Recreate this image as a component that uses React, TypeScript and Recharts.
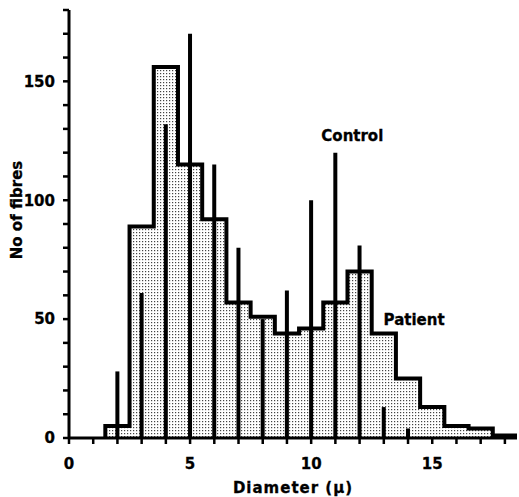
import React from "react";
import {
  ComposedChart,
  Area,
  Bar,
  XAxis,
  YAxis,
  ReferenceDot,
} from "recharts";

// patient histogram: bins of width 1 starting at these edges
const patientBinStarts = [1.5, 2.5, 3.5, 4.5, 5.5, 6.5, 7.5, 8.5, 9.5, 10.5, 11.5, 12.5, 13.5, 14.5, 15.5, 16.5, 17.5];
const patientCounts = [5, 89, 156, 115, 92, 57, 51, 44, 46, 57, 70, 44, 25, 13, 5, 4, 1];
const patientEnd = 18.5;

// control: single lines at integer diameters
const controlDiameters = [2, 3, 4, 5, 6, 7, 8, 9, 10, 11, 12, 13, 14];
const controlCounts = [28, 61, 132, 170, 115, 80, 50, 62, 100, 120, 81, 13, 4];

const xTicks = [0, 1, 2, 3, 4, 5, 6, 7, 8, 9, 10, 11, 12, 13, 14, 15, 16, 17, 18];
const yTicks = [0, 10, 20, 30, 40, 50, 60, 70, 80, 90, 100, 110, 120, 130, 140, 150, 160, 170, 180];

const rows: { x: number; patient?: number; control?: number }[] = [];
rows.push({ x: patientBinStarts[0], patient: 0 });
patientBinStarts.forEach((x, i) => rows.push({ x, patient: patientCounts[i] }));
rows.push({ x: patientEnd, patient: patientCounts[patientCounts.length - 1] });
rows.push({ x: patientEnd, patient: 0 });
controlDiameters.forEach((x, i) => rows.push({ x, control: controlCounts[i] }));
const data = rows.sort((a, b) => a.x - b.x);

const font = "'DejaVu Sans', sans-serif";
const textStyle = { fill: "#000", fontSize: 15, fontWeight: 700, fontFamily: font, stroke: "#000", strokeWidth: 0.3 };

export default function App() {
  return (
    <div style={{ position: "absolute", left: 0, top: 0, background: "#fff" }}>
      <ComposedChart width={519} height={497} data={data} margin={{ top: 10, right: 2, left: 0, bottom: 0 }}>
        <defs>
          <pattern id="stipple" width="3" height="3" patternUnits="userSpaceOnUse">
            <rect width="3" height="3" fill="#fff" />
            <rect x="1" y="1" width="1.2" height="1.2" fill="#444" />
          </pattern>
        </defs>
        <XAxis
          dataKey="x"
          type="number"
          domain={[0, 18.5]}
          allowDataOverflow
          ticks={xTicks}
          interval={0}
          tickFormatter={(v) => (v % 5 === 0 ? String(v) : "")}
          height={59}
          tickSize={6}
          tickMargin={14}
          stroke="#000"
          axisLine={{ stroke: "#000", strokeWidth: 3 }}
          tickLine={{ stroke: "#000", strokeWidth: 2.5 }}
          tick={textStyle}
          label={{ value: "Diameter (μ)", position: "insideBottom", offset: 4, letterSpacing: 1, ...textStyle }}
        />
        <YAxis
          type="number"
          domain={[0, 180]}
          allowDataOverflow
          ticks={yTicks}
          interval={0}
          tickFormatter={(v) => (v % 50 === 0 ? String(v) : "")}
          width={69}
          tickSize={6}
          tickMargin={8}
          stroke="#000"
          axisLine={{ stroke: "#000", strokeWidth: 3 }}
          tickLine={{ stroke: "#000", strokeWidth: 2.5 }}
          tick={textStyle}
          label={{
            content: () => (
              <text
                x={17}
                y={210}
                transform="rotate(-90 17 210)"
                textAnchor="middle"
                dominantBaseline="central"
                style={textStyle}
              >
                No of fibres
              </text>
            ),
          }}
        />
        <Area
          dataKey="patient"
          type="stepAfter"
          connectNulls
          baseValue={0}
          stroke="#000"
          strokeWidth={4}
          strokeLinejoin="miter"
          fill="url(#stipple)"
          fillOpacity={1}
          dot={false}
          activeDot={false}
          isAnimationActive={false}
        />
        <Bar dataKey="control" barSize={4} fill="#000" isAnimationActive={false} />
        <ReferenceDot
          x={11.7}
          y={127}
          r={0}
          stroke="none"
          label={{ value: "Control", position: "center", ...textStyle }}
        />
        <ReferenceDot
          x={14.25}
          y={49.6}
          r={0}
          stroke="none"
          label={{ value: "Patient", position: "center", ...textStyle }}
        />
      </ComposedChart>
    </div>
  );
}
